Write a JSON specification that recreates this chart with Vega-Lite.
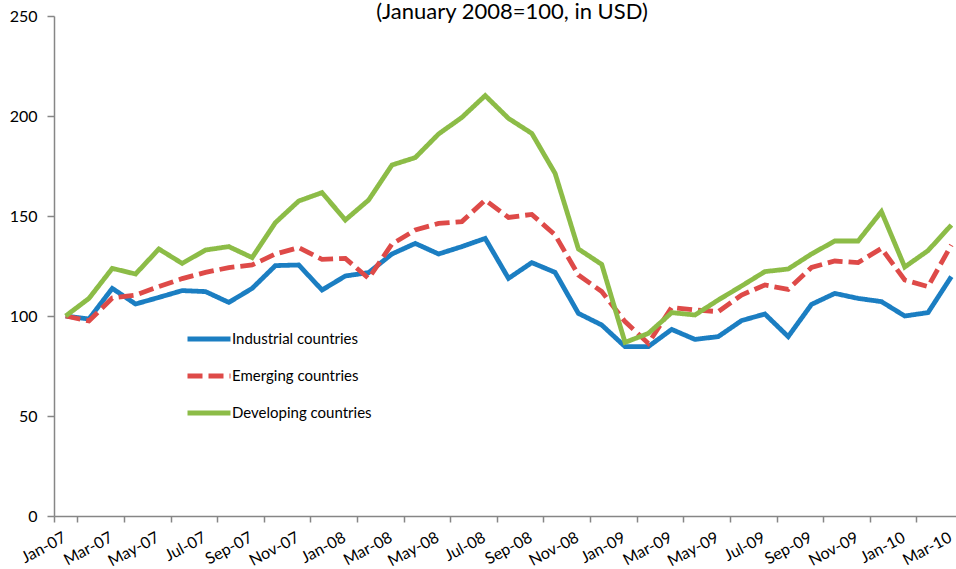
{
  "$schema": "https://vega.github.io/schema/vega-lite/v6.json",
  "width": 902,
  "height": 500,
  "autosize": {"type": "none"},
  "padding": {"left": 54, "top": 16, "right": 0, "bottom": 53},
  "background": "white",
  "title": {"text": "(January 2008=100, in USD)", "fontSize": 22, "font": "Lato", "fontWeight": "normal", "color": "#000000", "anchor": "middle", "offset": -15.5, "dx": 7},
  "config": {"view": {"stroke": null}, "font": "Lato"},
  "data": {"values": [
    {"month": "Jan-07", "series": "Industrial countries", "value": 100},
    {"month": "Feb-07", "series": "Industrial countries", "value": 98.5},
    {"month": "Mar-07", "series": "Industrial countries", "value": 113.8},
    {"month": "Apr-07", "series": "Industrial countries", "value": 106},
    {"month": "May-07", "series": "Industrial countries", "value": 109.3},
    {"month": "Jun-07", "series": "Industrial countries", "value": 112.7},
    {"month": "Jul-07", "series": "Industrial countries", "value": 112.2},
    {"month": "Aug-07", "series": "Industrial countries", "value": 106.8},
    {"month": "Sep-07", "series": "Industrial countries", "value": 113.8},
    {"month": "Oct-07", "series": "Industrial countries", "value": 125.2},
    {"month": "Nov-07", "series": "Industrial countries", "value": 125.5},
    {"month": "Dec-07", "series": "Industrial countries", "value": 113},
    {"month": "Jan-08", "series": "Industrial countries", "value": 120},
    {"month": "Feb-08", "series": "Industrial countries", "value": 121.7},
    {"month": "Mar-08", "series": "Industrial countries", "value": 131},
    {"month": "Apr-08", "series": "Industrial countries", "value": 136.3},
    {"month": "May-08", "series": "Industrial countries", "value": 131},
    {"month": "Jun-08", "series": "Industrial countries", "value": 134.7},
    {"month": "Jul-08", "series": "Industrial countries", "value": 138.8},
    {"month": "Aug-08", "series": "Industrial countries", "value": 118.8},
    {"month": "Sep-08", "series": "Industrial countries", "value": 126.7},
    {"month": "Oct-08", "series": "Industrial countries", "value": 121.8},
    {"month": "Nov-08", "series": "Industrial countries", "value": 101.3},
    {"month": "Dec-08", "series": "Industrial countries", "value": 95.5},
    {"month": "Jan-09", "series": "Industrial countries", "value": 84.7},
    {"month": "Feb-09", "series": "Industrial countries", "value": 84.7},
    {"month": "Mar-09", "series": "Industrial countries", "value": 93.3},
    {"month": "Apr-09", "series": "Industrial countries", "value": 88.3},
    {"month": "May-09", "series": "Industrial countries", "value": 89.7},
    {"month": "Jun-09", "series": "Industrial countries", "value": 97.7},
    {"month": "Jul-09", "series": "Industrial countries", "value": 101},
    {"month": "Aug-09", "series": "Industrial countries", "value": 89.7},
    {"month": "Sep-09", "series": "Industrial countries", "value": 105.8},
    {"month": "Oct-09", "series": "Industrial countries", "value": 111.3},
    {"month": "Nov-09", "series": "Industrial countries", "value": 108.8},
    {"month": "Dec-09", "series": "Industrial countries", "value": 107.2},
    {"month": "Jan-10", "series": "Industrial countries", "value": 100},
    {"month": "Feb-10", "series": "Industrial countries", "value": 101.7},
    {"month": "Mar-10", "series": "Industrial countries", "value": 119.7},
    {"month": "Jan-07", "series": "Emerging countries", "value": 100},
    {"month": "Feb-07", "series": "Emerging countries", "value": 97.5},
    {"month": "Mar-07", "series": "Emerging countries", "value": 109},
    {"month": "Apr-07", "series": "Emerging countries", "value": 110.5},
    {"month": "May-07", "series": "Emerging countries", "value": 114.7},
    {"month": "Jun-07", "series": "Emerging countries", "value": 118.7},
    {"month": "Jul-07", "series": "Emerging countries", "value": 121.8},
    {"month": "Aug-07", "series": "Emerging countries", "value": 124.2},
    {"month": "Sep-07", "series": "Emerging countries", "value": 125.5},
    {"month": "Oct-07", "series": "Emerging countries", "value": 131},
    {"month": "Nov-07", "series": "Emerging countries", "value": 134.2},
    {"month": "Dec-07", "series": "Emerging countries", "value": 128.3},
    {"month": "Jan-08", "series": "Emerging countries", "value": 128.8},
    {"month": "Feb-08", "series": "Emerging countries", "value": 118.8},
    {"month": "Mar-08", "series": "Emerging countries", "value": 136},
    {"month": "Apr-08", "series": "Emerging countries", "value": 143},
    {"month": "May-08", "series": "Emerging countries", "value": 146.3},
    {"month": "Jun-08", "series": "Emerging countries", "value": 147.2},
    {"month": "Jul-08", "series": "Emerging countries", "value": 158},
    {"month": "Aug-08", "series": "Emerging countries", "value": 149.3},
    {"month": "Sep-08", "series": "Emerging countries", "value": 150.8},
    {"month": "Oct-08", "series": "Emerging countries", "value": 140.5},
    {"month": "Nov-08", "series": "Emerging countries", "value": 120.5},
    {"month": "Dec-08", "series": "Emerging countries", "value": 112.2},
    {"month": "Jan-09", "series": "Emerging countries", "value": 97.2},
    {"month": "Feb-09", "series": "Emerging countries", "value": 86.3},
    {"month": "Mar-09", "series": "Emerging countries", "value": 104.3},
    {"month": "Apr-09", "series": "Emerging countries", "value": 103},
    {"month": "May-09", "series": "Emerging countries", "value": 102.2},
    {"month": "Jun-09", "series": "Emerging countries", "value": 110.5},
    {"month": "Jul-09", "series": "Emerging countries", "value": 115.5},
    {"month": "Aug-09", "series": "Emerging countries", "value": 113.3},
    {"month": "Sep-09", "series": "Emerging countries", "value": 124.3},
    {"month": "Oct-09", "series": "Emerging countries", "value": 127.5},
    {"month": "Nov-09", "series": "Emerging countries", "value": 126.7},
    {"month": "Dec-09", "series": "Emerging countries", "value": 133.8},
    {"month": "Jan-10", "series": "Emerging countries", "value": 118},
    {"month": "Feb-10", "series": "Emerging countries", "value": 114.7},
    {"month": "Mar-10", "series": "Emerging countries", "value": 135.5},
    {"month": "Jan-07", "series": "Developing countries", "value": 100},
    {"month": "Feb-07", "series": "Developing countries", "value": 108.8},
    {"month": "Mar-07", "series": "Developing countries", "value": 123.8},
    {"month": "Apr-07", "series": "Developing countries", "value": 121},
    {"month": "May-07", "series": "Developing countries", "value": 133.5},
    {"month": "Jun-07", "series": "Developing countries", "value": 126.3},
    {"month": "Jul-07", "series": "Developing countries", "value": 133},
    {"month": "Aug-07", "series": "Developing countries", "value": 134.7},
    {"month": "Sep-07", "series": "Developing countries", "value": 129.2},
    {"month": "Oct-07", "series": "Developing countries", "value": 146.7},
    {"month": "Nov-07", "series": "Developing countries", "value": 157.5},
    {"month": "Dec-07", "series": "Developing countries", "value": 161.7},
    {"month": "Jan-08", "series": "Developing countries", "value": 148},
    {"month": "Feb-08", "series": "Developing countries", "value": 158},
    {"month": "Mar-08", "series": "Developing countries", "value": 175.5},
    {"month": "Apr-08", "series": "Developing countries", "value": 179.2},
    {"month": "May-08", "series": "Developing countries", "value": 191},
    {"month": "Jun-08", "series": "Developing countries", "value": 199.3},
    {"month": "Jul-08", "series": "Developing countries", "value": 210.2},
    {"month": "Aug-08", "series": "Developing countries", "value": 198.8},
    {"month": "Sep-08", "series": "Developing countries", "value": 191.3},
    {"month": "Oct-08", "series": "Developing countries", "value": 171.3},
    {"month": "Nov-08", "series": "Developing countries", "value": 133.5},
    {"month": "Dec-08", "series": "Developing countries", "value": 125.8},
    {"month": "Jan-09", "series": "Developing countries", "value": 86.8},
    {"month": "Feb-09", "series": "Developing countries", "value": 91.3},
    {"month": "Mar-09", "series": "Developing countries", "value": 101.7},
    {"month": "Apr-09", "series": "Developing countries", "value": 100.5},
    {"month": "May-09", "series": "Developing countries", "value": 108},
    {"month": "Jun-09", "series": "Developing countries", "value": 115},
    {"month": "Jul-09", "series": "Developing countries", "value": 122.2},
    {"month": "Aug-09", "series": "Developing countries", "value": 123.5},
    {"month": "Sep-09", "series": "Developing countries", "value": 131},
    {"month": "Oct-09", "series": "Developing countries", "value": 137.5},
    {"month": "Nov-09", "series": "Developing countries", "value": 137.5},
    {"month": "Dec-09", "series": "Developing countries", "value": 152.2},
    {"month": "Jan-10", "series": "Developing countries", "value": 124.5},
    {"month": "Feb-10", "series": "Developing countries", "value": 132.7},
    {"month": "Mar-10", "series": "Developing countries", "value": 145.5}
  ]},
  "mark": {"type": "line", "strokeWidth": 4.8, "strokeCap": "butt"},
  "encoding": {
    "x": {
      "field": "month", "type": "ordinal", "sort": null,
      "scale": {"type": "band", "paddingInner": 0, "paddingOuter": 0, "range": [0, 909]},
      "axis": {
        "title": null, "grid": false,
        "values": ["Jan-07","Mar-07","May-07","Jul-07","Sep-07","Nov-07","Jan-08","Mar-08","May-08","Jul-08","Sep-08","Nov-08","Jan-09","Mar-09","May-09","Jul-09","Sep-09","Nov-09","Jan-10","Mar-10"],
        "tickBand": "extent",
        "labelAngle": -28, "labelAlign": "right", "labelBaseline": "top",
        "labelFont": "Lato", "labelFontSize": 16, "labelColor": "#000000",
        "labelPadding": 7, "labelOffset": -5, "labelOverlap": false, "labelBound": false,
        "tickSize": 6, "tickColor": "#868686", "tickWidth": 1.5,
        "domainColor": "#868686", "domainWidth": 1.5
      }
    },
    "y": {
      "field": "value", "type": "quantitative",
      "scale": {"domain": [0, 250], "nice": false},
      "axis": {
        "title": null, "grid": false, "values": [0, 50, 100, 150, 200, 250],
        "labelFont": "Lato", "labelFontSize": 16, "labelColor": "#000000",
        "labelPadding": 10, "tickSize": 7, "tickColor": "#868686", "tickWidth": 1.5,
        "domainColor": "#868686", "domainWidth": 1.5
      }
    },
    "color": {
      "field": "series", "type": "nominal",
      "scale": {"domain": ["Industrial countries", "Emerging countries", "Developing countries"], "range": ["#1B7EC2", "#DE4A48", "#8CBC47"]},
      "legend": {
        "orient": "none", "legendX": 131, "legendY": 299, "title": null,
        "symbolType": "stroke", "symbolSize": 1849, "symbolStrokeWidth": 5,
        "labelFont": "Lato", "labelFontSize": 15, "labelColor": "#000000",
        "labelOffset": -1, "rowPadding": 3
      }
    },
    "strokeDash": {
      "field": "series", "type": "nominal",
      "scale": {"domain": ["Industrial countries", "Emerging countries", "Developing countries"], "range": [[1, 0], [15, 6], [1, 0]]}
    }
  }
}
